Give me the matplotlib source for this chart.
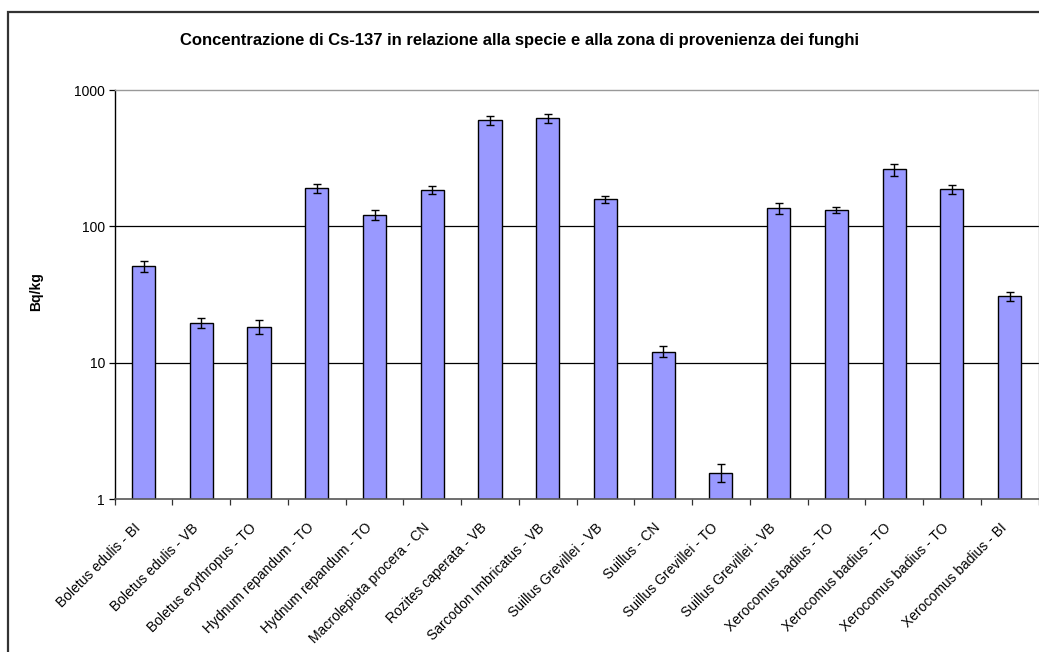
import matplotlib
matplotlib.use("Agg")
import matplotlib.pyplot as plt
from matplotlib.patches import Rectangle
from matplotlib.ticker import FixedLocator, NullFormatter, NullLocator
from matplotlib.transforms import ScaledTranslation
import numpy as np

categories = [
    "Boletus edulis - BI", "Boletus edulis - VB", "Boletus erythropus - TO",
    "Hydnum repandum - TO", "Hydnum repandum - TO", "Macrolepiota procera - CN",
    "Rozites caperata - VB", "Sarcodon Imbricatus - VB", "Suillus Grevillei - VB",
    "Suillus - CN", "Suillus Grevillei - TO", "Suillus Grevillei - VB",
    "Xerocomus badius - TO", "Xerocomus badius - TO", "Xerocomus badius - TO",
    "Xerocomus badius - BI",
]
values = [51, 19.6, 18.4, 190, 122, 185, 600, 620, 158, 12.1, 1.57, 136, 131.5, 262, 187.5, 30.7]
errors = [4.5, 1.7, 2.1, 13.5, 11, 13.5, 45, 45, 9.5, 1.1, 0.24, 12, 7, 26, 13.5, 2.2]
yticks = [1, 10, 100, 1000]
ytick_labels = ["1", "10", "100", "1000"]
title = "Concentrazione di Cs-137 in relazione alla specie e alla zona di provenienza dei funghi"
ylabel = "Bq/kg"

plt.rcParams['font.family'] = ['Liberation Sans', 'DejaVu Sans']

fig = plt.figure(figsize=(10.39, 6.52), dpi=100)
ax = fig.add_axes([114.7 / 1039, 1 - 499.3 / 652, (1038.5 - 114.7) / 1039, (499.3 - 90) / 652])

# outer chart frame
fig.patches.append(Rectangle((8 / 1039, -0.01), 1.05, 1 - 12 / 652 + 0.01,
                             transform=fig.transFigure, fill=False,
                             edgecolor="#333333", linewidth=1.6, zorder=0))

x = np.arange(len(categories))
ax.set_yscale("log")
ax.set_ylim(1, 1000)
ax.set_xlim(-0.5, len(categories) - 0.5)

for yv in [10, 100]:
    ax.axhline(yv, color="black", linewidth=0.9, zorder=1)

ax.bar(x, values, width=0.40, color="#9999FF", edgecolor="black", linewidth=1.0, zorder=2)
ax.errorbar(x, values, yerr=errors, fmt="none", ecolor="black", elinewidth=1.0,
            capsize=3.2, capthick=1.0, zorder=3)

ax.yaxis.set_major_locator(FixedLocator(yticks))
ax.set_yticklabels(ytick_labels, fontsize=10)
ax.yaxis.set_minor_locator(NullLocator())
ax.yaxis.set_minor_formatter(NullFormatter())
ax.tick_params(axis="y", which="major", length=4, width=0.9, direction="out", pad=3)

ax.set_xticks(x)
ax.set_xticklabels(categories, rotation=45, ha="right", va="center",
                   rotation_mode="anchor", fontsize=10)
ax.tick_params(axis="x", which="major", length=0, pad=19)
ax.xaxis.set_minor_locator(FixedLocator(np.arange(-0.5, len(categories) + 0.5, 1.0)))
ax.tick_params(axis="x", which="minor", length=4, width=0.9, direction="out", color="#333333")
shift = ScaledTranslation(-5 / 100, 0, fig.dpi_scale_trans)
for lab in ax.get_xticklabels():
    lab.set_transform(lab.get_transform() + shift)

for side in ["top", "right"]:
    ax.spines[side].set_color("#999999")
    ax.spines[side].set_linewidth(1.0)
ax.spines["left"].set_color("black")
ax.spines["left"].set_linewidth(1.0)
ax.spines["bottom"].set_color("#555555")
ax.spines["bottom"].set_linewidth(1.2)

fig.text(520 / 1039, 1 - 40 / 652, title, ha="center", va="center", fontsize=12, fontweight="bold")
fig.text(36 / 1039, 1 - 292 / 652, ylabel, ha="center", va="center", rotation=90,
         fontsize=10, fontweight="bold")

fig.savefig("out.png", dpi=100)
